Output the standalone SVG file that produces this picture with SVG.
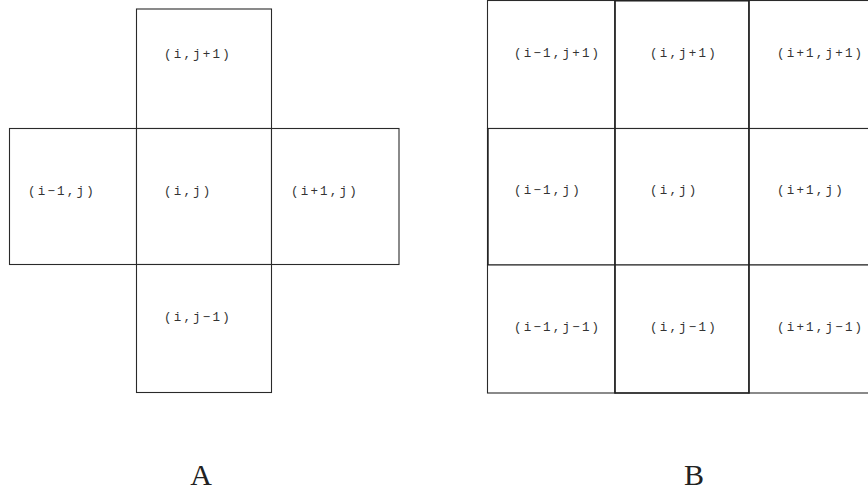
<svg xmlns="http://www.w3.org/2000/svg" width="868" height="497" viewBox="0 0 868 497">
<style>
.c{fill:#fff;stroke:#2a2a2a;stroke-width:1.1}
.b{fill:none;stroke:#222;stroke-width:1.4}
.t{font-family:"Liberation Mono","DejaVu Sans Mono",monospace;font-size:12.5px;letter-spacing:2.2px;fill:#333}
.L{font-family:"Liberation Serif","DejaVu Serif",serif;font-size:30px;fill:#222;text-anchor:middle}
</style>
<rect width="868" height="497" fill="#fff"/>
<g id="panelA">
<g id="A_i_jp1"><rect class="c" x="136.5" y="9" width="135" height="119.5"/><text class="t" x="164" y="58">(i,j+1)</text></g>
<g id="A_im1_j"><rect class="c" x="9.5" y="128.5" width="127" height="136"/><text class="t" x="28" y="195">(i−1,j)</text></g>
<g id="A_i_j"><rect class="c" x="136.5" y="128.5" width="135" height="136"/><text class="t" x="164" y="195">(i,j)</text></g>
<g id="A_ip1_j"><rect class="c" x="271.5" y="128.5" width="127.5" height="136"/><text class="t" x="291" y="195">(i+1,j)</text></g>
<g id="A_i_jm1"><rect class="c" x="136.5" y="264.5" width="135" height="128"/><text class="t" x="164" y="321">(i,j−1)</text></g>
<text class="L" x="201" y="485">A</text>
</g>
<g id="panelB">
<g id="B_im1_jp1"><rect class="c" x="487.5" y="0.5" width="127.5" height="128"/><text class="t" x="514" y="57">(i−1,j+1)</text></g>
<g id="B_i_jp1"><rect class="c" x="615" y="0.5" width="134" height="128"/><text class="t" x="650" y="57">(i,j+1)</text></g>
<g id="B_ip1_jp1"><rect class="c" x="749" y="0.5" width="130" height="128"/><text class="t" x="777" y="57">(i+1,j+1)</text></g>
<g id="B_im1_j"><rect class="c" x="487.5" y="128.5" width="127.5" height="136.5"/><text class="t" x="514" y="194">(i−1,j)</text></g>
<g id="B_i_j"><rect class="c" x="615" y="128.5" width="134" height="136.5"/><text class="t" x="650" y="194">(i,j)</text></g>
<g id="B_ip1_j"><rect class="c" x="749" y="128.5" width="130" height="136.5"/><text class="t" x="777" y="194">(i+1,j)</text></g>
<g id="B_im1_jm1"><rect class="c" x="487.5" y="265" width="127.5" height="128"/><text class="t" x="514" y="331">(i−1,j−1)</text></g>
<g id="B_i_jm1"><rect class="c" x="615" y="265" width="134" height="128"/><text class="t" x="650" y="331">(i,j−1)</text></g>
<g id="B_ip1_jm1"><rect class="c" x="749" y="265" width="130" height="128"/><text class="t" x="777" y="331">(i+1,j−1)</text></g>
<rect class="b" x="615" y="0.8" width="134" height="392.2"/>
<line class="b" x1="488" y1="128.5" x2="488" y2="265"/>
<text class="L" x="694" y="485">B</text>
</g>
<g id="connectors"/>
</svg>
